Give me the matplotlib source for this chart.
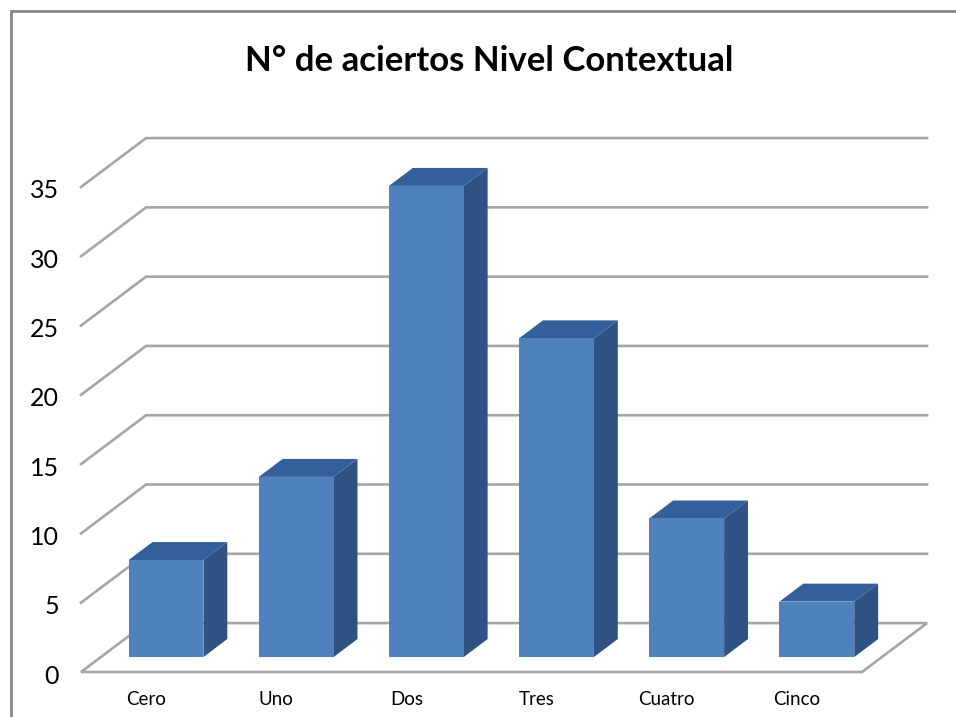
import matplotlib
matplotlib.use("Agg")
import matplotlib.pyplot as plt
from matplotlib.lines import Line2D
from matplotlib.transforms import ScaledTranslation

plt.rcParams['font.family'] = ['Lato', 'DejaVu Sans']

# Data
categories = ["Cero", "Uno", "Dos", "Tres", "Cuatro", "Cinco"]
values = [7, 13, 34, 23, 10, 4]
y_ticks = [0, 5, 10, 15, 20, 25, 30, 35]

W, H = 956, 717
fig = plt.figure(figsize=(W / 100, H / 100), dpi=100, facecolor="white")

# axes run along the front edge of the floor
left, right, bottom, top = 81, 862, 672, 187
ax = fig.add_axes([left / W, 1 - bottom / H, (right - left) / W, (bottom - top) / H])
ax.set_xlim(-0.5, 5.5)
ax.set_ylim(0, 35)
ax.patch.set_alpha(0)
for s in ax.spines.values():
    s.set_visible(False)

# oblique projection: depth 1 = back wall
dx = 0.5
dy = 3.53
d_front = 0.306
d_back = 0.673
bar_w = 0.575

grid_c = "#a6a6a6"
front_c = "#4f81bd"
side_c = "#2f5282"
top_c = "#33609a"

# walls and floor
for v in y_ticks[1:]:
    ax.plot([-0.5, -0.5 + dx, 5.5 + dx], [v, v + dy, v + dy], color=grid_c, lw=1.9,
            clip_on=False, zorder=1, solid_joinstyle="miter")
ax.plot([-0.5 + dx, -0.5, 5.5, 5.5 + dx, -0.5 + dx], [dy, 0, 0, dy, dy], color=grid_c, lw=1.9,
        clip_on=False, zorder=1, solid_joinstyle="miter")

# bars
xs = list(range(len(values)))
for x, v in zip(xs, values):
    x0 = x - bar_w / 2 + d_front * dx
    x1 = x + bar_w / 2 + d_front * dx
    b0 = d_front * dy
    off_x = (d_back - d_front) * dx
    off_y = (d_back - d_front) * dy
    ax.fill([x1, x1 + off_x, x1 + off_x, x1], [b0, b0 + off_y, b0 + v + off_y, b0 + v],
            color=side_c, lw=0, clip_on=False, zorder=3)
    ax.fill([x0, x1, x1 + off_x, x0 + off_x], [b0 + v, b0 + v, b0 + v + off_y, b0 + v + off_y],
            color=top_c, lw=0, clip_on=False, zorder=3)
    ax.bar(x + d_front * dx, v, width=bar_w, bottom=b0, color=front_c, lw=0, clip_on=False, zorder=4)

ax.set_xticks(xs)
ax.set_xticklabels(categories, fontsize=13.5, color="black")
ax.set_yticks(y_ticks)
ax.tick_params(axis="x", length=0, pad=14)
ax.tick_params(axis="y", length=0, pad=16, labelsize=18)
# nudge y labels down a little
for lab in ax.get_yticklabels():
    lab.set_transform(lab.get_transform() + ScaledTranslation(0, -2 / 100, fig.dpi_scale_trans))

fig.text(489 / W, 1 - 61 / H, "N° de aciertos Nivel Contextual", ha="center", va="center",
         fontsize=25, fontweight="bold", color="black")

# chart frame: only top and left edges show in the picture
fig.add_artist(Line2D([11 / W, 11 / W, 1], [0, 1 - 11 / H, 1 - 11 / H], transform=fig.transFigure,
                      color="#868686", lw=2, solid_joinstyle="miter"))

fig.savefig("out.png", dpi=100)
